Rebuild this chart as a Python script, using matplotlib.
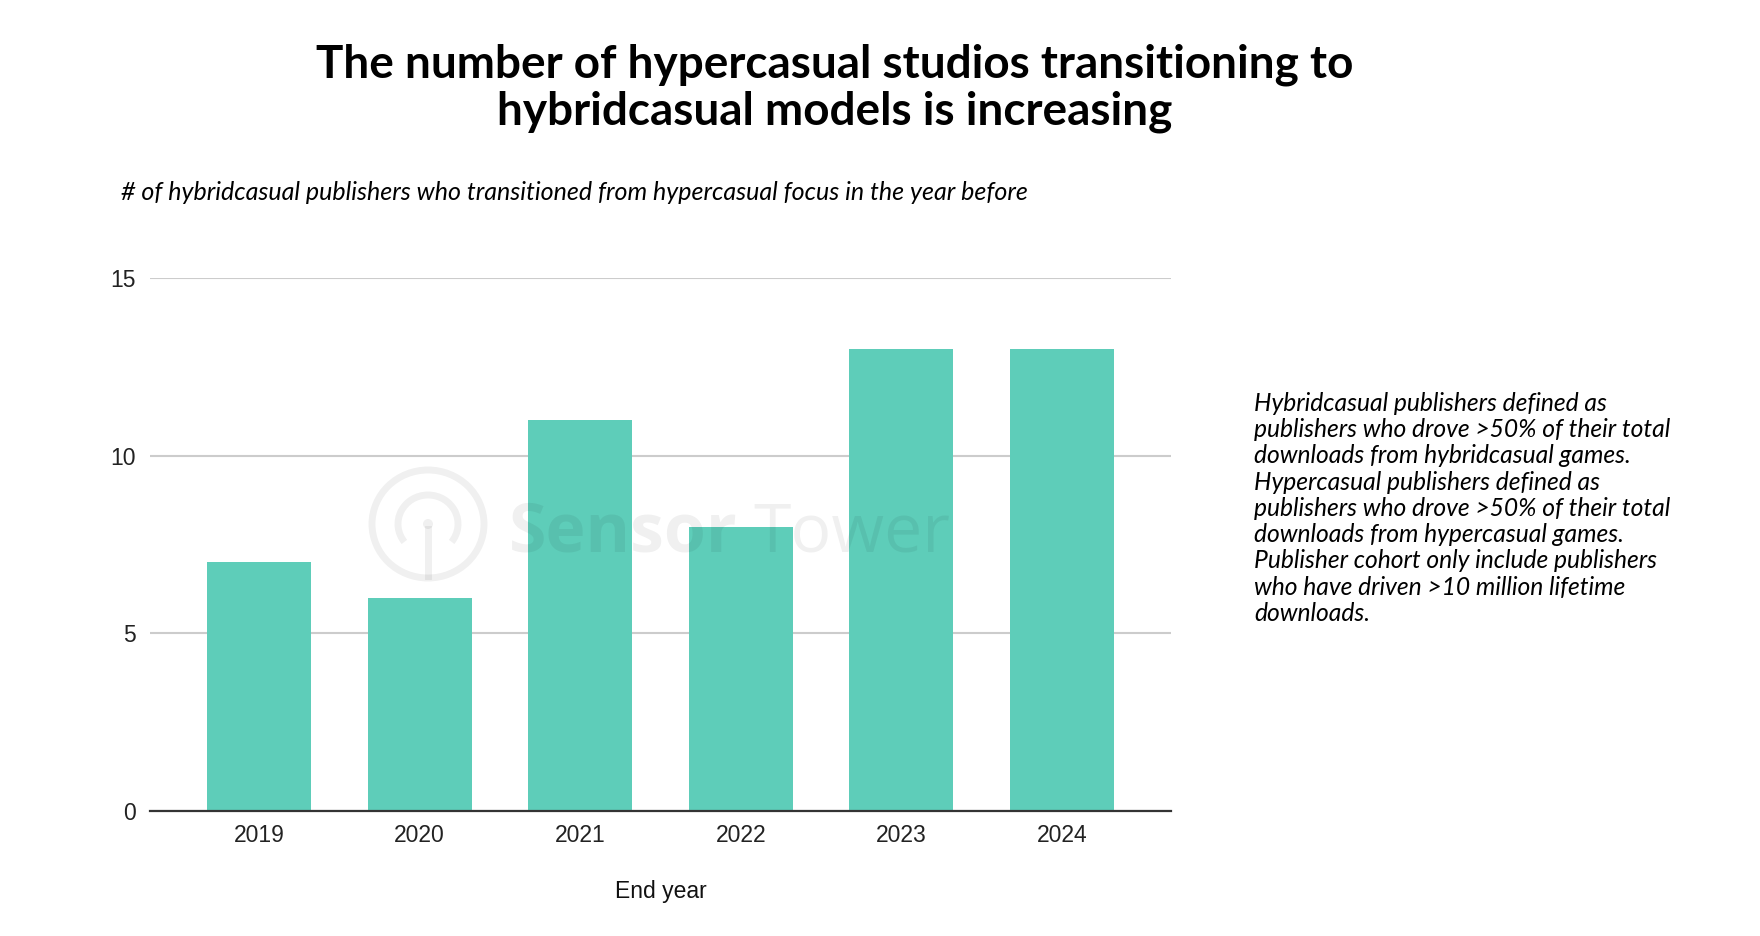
import matplotlib.pyplot as plt
from matplotlib.patches import Ellipse, Arc

years = ['2019', '2020', '2021', '2022', '2023', '2024']
counts = [7, 6, 11, 8, 13, 13]
yticks = [0, 5, 10, 15]

title = 'The number of hypercasual studios transitioning to\nhybridcasual models is increasing'
subtitle = '# of hybridcasual publishers who transitioned from hypercasual focus in the year before'
note = ('Hybridcasual publishers defined as\n'
        'publishers who drove >50% of their total\n'
        'downloads from hybridcasual games.\n'
        'Hypercasual publishers defined as\n'
        'publishers who drove >50% of their total\n'
        'downloads from hypercasual games.\n'
        'Publisher cohort only include publishers\n'
        'who have driven >10 million lifetime\n'
        'downloads.')

W, H = 1760, 936
fig = plt.figure(figsize=(W/100, H/100), dpi=100)

def fx(px):
    return px / W

def fy(py):
    return 1 - py / H

ax = fig.add_axes([fx(150), fy(811), (1171-150)/W, (811-278)/H])

x = range(len(years))
ax.bar(x, counts, width=0.65, color='#5ECDB9', zorder=3)
ax.set_xlim(-0.68, len(years) - 0.32)
ax.set_ylim(0, 15)
ax.set_yticks(yticks)
ax.set_xticks(list(x))
ax.set_xticklabels(years)
ax.grid(axis='y', color='#cccccc', linewidth=1.5, zorder=0)
for s in ['top', 'right', 'left']:
    ax.spines[s].set_visible(False)
ax.spines['bottom'].set_color('#333333')
ax.spines['bottom'].set_linewidth(1.6)
ax.spines['bottom'].set_zorder(4)
ax.tick_params(length=0, labelsize=16.5, colors='#222222')
ax.tick_params(axis='x', pad=9)
ax.tick_params(axis='y', pad=10)
for lab in ax.get_xticklabels() + ax.get_yticklabels():
    lab.set_family('Liberation Sans')
ax.set_xlabel('End year', fontsize=16.5, family='Liberation Sans', labelpad=24, color='#111111')

# watermark
wm = dict(color='#000000', alpha=0.06, family='Open Sans', fontsize=49, va='baseline', zorder=5)
fig.text(fx(509), fy(551), 'Sensor', fontweight='bold', ha='left', **wm)
fig.text(fx(753), fy(551), 'Tower', fontweight='normal', ha='left', **wm)
cx, cy = 428, 524
fig.patches.append(Ellipse((fx(cx), fy(cy)), 112/W, 108/H, transform=fig.transFigure,
                           fill=False, lw=5, ec='#000000', alpha=0.06))
fig.patches.append(Arc((fx(cx), fy(cy)), 60/W, 58/H, theta1=-55, theta2=235,
                       transform=fig.transFigure, lw=5, ec='#000000', alpha=0.06))
fig.patches.append(Ellipse((fx(cx), fy(cy)), 10/W, 10/H, transform=fig.transFigure,
                           fc='#000000', ec='none', alpha=0.06))
fig.lines.append(plt.Line2D([fx(cx), fx(cx)], [fy(529), fy(576)], transform=fig.transFigure,
                            lw=5, color='#000000', alpha=0.06))

fig.text(fx(835), fy(88), title, fontsize=33, fontweight='bold', family='Lato',
         ha='center', va='center', linespacing=1.12)
fig.text(fx(121), fy(193), subtitle, fontsize=18, style='italic', family='Lato',
         ha='left', va='center')
fig.text(fx(1254), fy(392), note, fontsize=17.7, style='italic', family='Lato',
         ha='left', va='top', linespacing=1.17)

fig.savefig('out.png', dpi=100, facecolor='white')
